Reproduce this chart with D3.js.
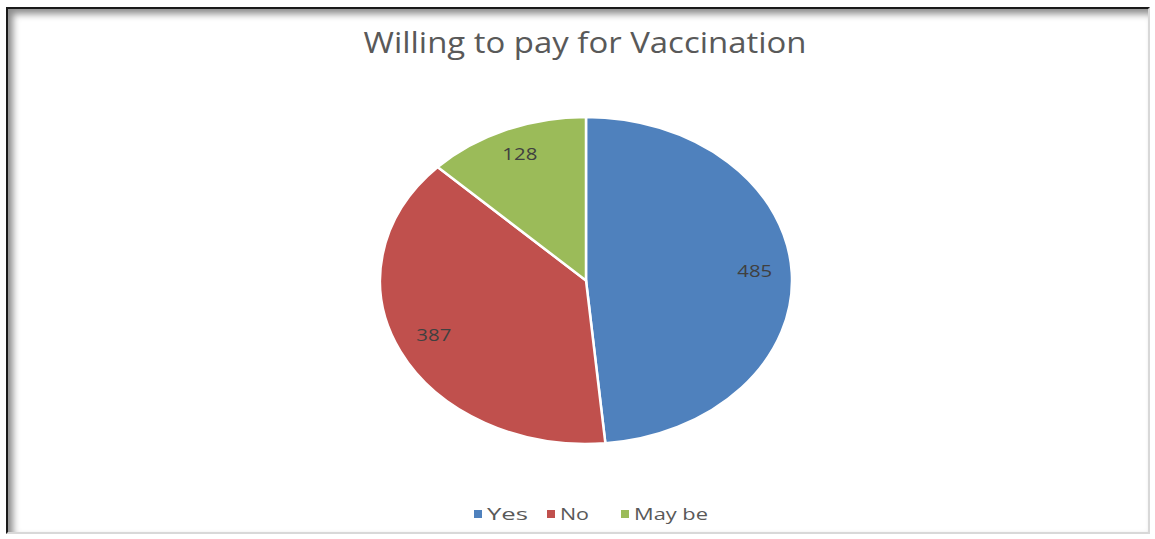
<!DOCTYPE html>
<html>
<head>
<meta charset="utf-8">
<script src="https://cdn.jsdelivr.net/npm/d3@7"></script>
<style>
  html, body { margin: 0; padding: 0; background: #fff; }
  #frame {
    position: absolute; left: 6px; top: 7px; width: 1144px; height: 527px;
    border-top: 2px solid #1a1a1a; border-left: 2px solid #1a1a1a;
    border-right: 2px solid #d8d8d8; border-bottom: 2px solid #d8d8d8;
    box-shadow: inset 5px 5px 7px rgba(0,0,0,0.45);
    box-sizing: border-box;
  }
  svg { position: absolute; left: 0; top: 0; }
</style>
</head>
<body>
<div id="frame"></div>
<svg id="chart" width="1155" height="539"></svg>
<script>
// Data
const CATEGORIES = ['Yes', 'No', 'May be'];
const VALUES = [485, 387, 128];
const COLORS = ['#4f81bd', '#c0504d', '#9bbb59'];
const TITLE = 'Willing to pay for Vaccination';

// Layout
const CX = 586, CY = 280.5;
const RX = 206, RY = 163.5;
const LABEL_FRACTION = 0.82;
// The original picture is stretched sideways, so text gets stretched too.
const LEGEND_TEXT_WIDTH = [41, 29, 74];

const svg = d3.select('#chart');

svg.append('text')
    .attr('x', 585)
    .attr('y', 53)
    .attr('text-anchor', 'middle')
    .attr('font-family', 'Open Sans, sans-serif')
    .attr('font-size', 29)
    .attr('fill', '#595959')
    .attr('textLength', 443)
    .attr('lengthAdjust', 'spacingAndGlyphs')
    .text(TITLE);

const data = CATEGORIES.map(function(c, i) {
  return {name: c, value: VALUES[i], color: COLORS[i]};
});

const pie = d3.pie().sort(null).value(function(d) { return d.value; });
const arcs = pie(data);

const arc = d3.arc().innerRadius(0).outerRadius(RY);
const labelArc = d3.arc()
    .innerRadius(RY * LABEL_FRACTION)
    .outerRadius(RY * LABEL_FRACTION);

// The pie is stretched horizontally into an ellipse.
const g = svg.append('g')
    .attr('transform', 'translate(' + CX + ',' + CY + ') scale(' + (RX / RY) + ',1)');

g.selectAll('path')
    .data(arcs)
    .enter().append('path')
    .attr('d', arc)
    .attr('fill', function(d) { return d.data.color; })
    .attr('stroke', '#fff')
    .attr('stroke-width', 2.5)
    .attr('vector-effect', 'non-scaling-stroke');

svg.append('g')
    .selectAll('text')
    .data(arcs)
    .enter().append('text')
    .attr('x', function(d) { return CX + labelArc.centroid(d)[0] * RX / RY; })
    .attr('y', function(d) { return CY + labelArc.centroid(d)[1] - 3; })
    .attr('dy', '0.35em')
    .attr('text-anchor', 'middle')
    .attr('font-family', 'Open Sans, sans-serif')
    .attr('font-size', 16)
    .attr('fill', '#404040')
    .attr('textLength', 35)
    .attr('lengthAdjust', 'spacingAndGlyphs')
    .text(function(d) { return d.data.value; });

// Legend
const legendX = [474, 547, 621];
const legend = svg.append('g').attr('transform', 'translate(0,514)');
const item = legend.selectAll('g')
    .data(data)
    .enter().append('g')
    .attr('transform', function(d, i) { return 'translate(' + legendX[i] + ',0)'; });
item.append('rect')
    .attr('x', 0).attr('y', -4)
    .attr('width', 8).attr('height', 8)
    .attr('fill', function(d) { return d.color; });
item.append('text')
    .attr('x', 13)
    .attr('dy', '0.35em')
    .attr('font-family', 'Open Sans, sans-serif')
    .attr('font-size', 16)
    .attr('fill', '#595959')
    .attr('textLength', function(d, i) { return LEGEND_TEXT_WIDTH[i]; })
    .attr('lengthAdjust', 'spacingAndGlyphs')
    .text(function(d) { return d.name; });
</script>
</body>
</html>
